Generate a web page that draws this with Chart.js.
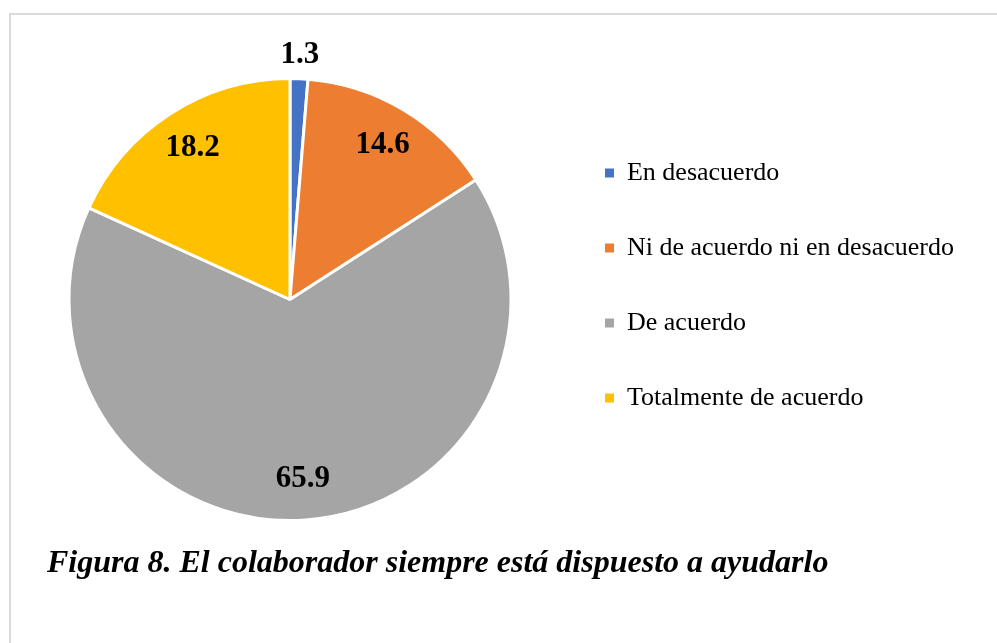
<!DOCTYPE html>
<html lang="es">
<head>
<meta charset="utf-8">
<title>Figura 8</title>
<script src="https://cdn.jsdelivr.net/npm/chart.js@4.4.1/dist/chart.umd.min.js"></script>
<style>
  html, body { margin: 0; padding: 0; background: #fff; }
  #wrap { position: relative; width: 997px; height: 643px; }
</style>
</head>
<body>
<div id="wrap"><canvas id="pieChart"></canvas></div>
<script>
// Datos de la grafica
const categorias = [
  'En desacuerdo',
  'Ni de acuerdo ni en desacuerdo',
  'De acuerdo',
  'Totalmente de acuerdo',
];
const valores = [1.3, 14.6, 65.9, 18.2];
const colores = ['#4472C4', '#ED7D31', '#A5A5A5', '#FFC000'];
const titulo = 'Figura 8. El colaborador siempre está dispuesto a ayudarlo';

const fuente = "'Liberation Serif', 'Times New Roman', serif";

// Marco gris y leyenda de la figura
const marcoPlugin = {
  id: 'marco',
  beforeDraw(chart) {
    const ctx = chart.ctx;
    ctx.save();
    ctx.fillStyle = '#ffffff';
    ctx.fillRect(0, 0, chart.width, chart.height);
    ctx.strokeStyle = '#d9d9d9';
    ctx.lineWidth = 2;
    ctx.beginPath();
    ctx.moveTo(10, chart.height + 5);
    ctx.lineTo(10, 14);
    ctx.lineTo(chart.width + 5, 14);
    ctx.stroke();
    ctx.restore();
  },
  afterDraw(chart) {
    const ctx = chart.ctx;
    ctx.save();
    ctx.fillStyle = '#000';
    ctx.font = 'italic bold 32px ' + fuente;
    ctx.textAlign = 'left';
    ctx.textBaseline = 'alphabetic';
    ctx.fillText(titulo, 47, 572);
    ctx.restore();
  },
};

// Etiquetas de valores sobre cada porcion
const etiquetasPlugin = {
  id: 'etiquetas',
  afterDatasetsDraw(chart) {
    const ctx = chart.ctx;
    const meta = chart.getDatasetMeta(0);
    const total = valores.reduce((a, b) => a + b, 0);
    ctx.save();
    ctx.fillStyle = '#000';
    ctx.font = 'bold 31px ' + fuente;
    ctx.textAlign = 'center';
    ctx.textBaseline = 'middle';
    meta.data.forEach((arc, i) => {
      const p = arc.getProps(['x', 'y', 'startAngle', 'endAngle', 'outerRadius'], true);
      const mid = (p.startAngle + p.endAngle) / 2;
      const r = valores[i] / total < 0.05 ? p.outerRadius + 24 : p.outerRadius * 0.815;
      ctx.fillText(valores[i].toFixed(1), p.x + Math.cos(mid) * r, p.y + Math.sin(mid) * r);
    });
    ctx.restore();
  },
};

const data = {
  labels: categorias,
  datasets: [{
    data: valores,
    backgroundColor: colores,
    borderColor: '#ffffff',
    borderWidth: 3,
    hoverOffset: 0,
  }],
};

const config = {
  type: 'pie',
  data: data,
  options: {
    responsive: true,
    maintainAspectRatio: false,
    animation: false,
    layout: {
      padding: {left: 24, right: 33, top: 77, bottom: 121},
    },
    plugins: {
      tooltip: {enabled: false},
      legend: {
        position: 'right',
        align: 'start',
        title: {
          display: true,
          text: '',
          font: {size: 10},
          padding: {top: 0, bottom: 22},
        },
        labels: {
          boxWidth: 9,
          boxHeight: 9,
          padding: 49,
          color: '#000',
          font: {family: fuente, size: 26},
          generateLabels(chart) {
            const items = Chart.overrides.pie.plugins.legend.labels.generateLabels(chart);
            items.forEach((it) => { it.lineWidth = 0; });
            return items;
          },
        },
      },
    },
  },
  plugins: [marcoPlugin, etiquetasPlugin],
};

new Chart(
    document.getElementById('pieChart'),
    config,
);
</script>
</body>
</html>
